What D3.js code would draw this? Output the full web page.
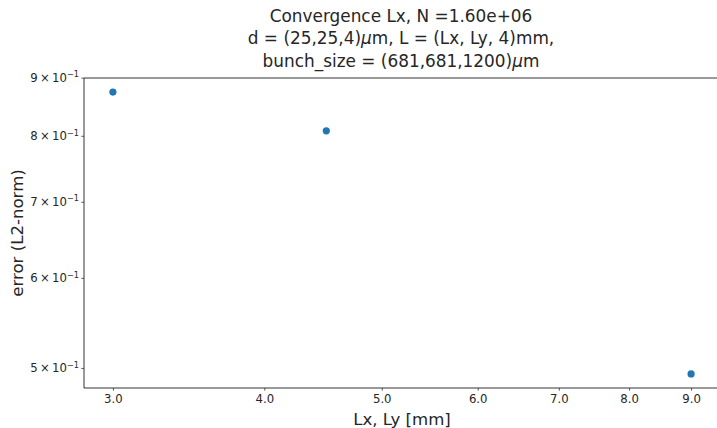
<!DOCTYPE html>
<html><head><meta charset="utf-8">
<script src="https://cdn.jsdelivr.net/npm/d3@7"></script>
<style>body{margin:0;background:#fff;} text{font-family:"DejaVu Sans",sans-serif;fill:#262626;}</style>
</head><body>
<svg id="c" width="717" height="428"></svg>
<script>
const xValues = [3.0, 4.5, 9.0];
const yValues = [0.874, 0.808, 0.494];
const xTicks = [3, 4, 5, 6, 7, 8, 9];
const xTickLabels = ["3.0", "4.0", "5.0", "6.0", "7.0", "8.0", "9.0"];
const yTicks = [0.5, 0.6, 0.7, 0.8, 0.9];
const yTickMantissa = ["5", "6", "7", "8", "9"];
const titleLines = ["Convergence Lx, N =1.60e+06", "d = (25,25,4)|\u03bc|m, L = (Lx, Ly, 4)mm,", "bunch_size = (681,681,1200)|\u03bc|m"];
const xLabel = "Lx, Ly [mm]";
const yLabel = "error (L2-norm)";

const svg = d3.select("#c");
const L = 84, R = 720, T = 78, B = 388;
const xmin = d3.min(xValues), xmax = d3.max(xValues);
const lx = Math.log(xmax / xmin) * 0.05;
const x = d3.scaleLog().domain([xmin * Math.exp(-lx), xmax * Math.exp(lx)]).range([L, R]);
const ymin = d3.min(yValues), ymax = d3.max(yValues);
const ly = Math.log(ymax / ymin) * 0.05;
const y = d3.scaleLog().domain([ymin * Math.exp(-ly), ymax * Math.exp(ly)]).range([B, T]);

// spines
const g = svg.append("g");
g.append("line").attr("x1", L).attr("x2", L).attr("y1", T).attr("y2", B).attr("stroke", "#000").attr("stroke-width", 0.8);
g.append("line").attr("x1", L).attr("x2", R).attr("y1", B).attr("y2", B).attr("stroke", "#000").attr("stroke-width", 0.8);
g.append("line").attr("x1", L).attr("x2", R).attr("y1", T).attr("y2", T).attr("stroke", "#000").attr("stroke-width", 0.8);
g.append("line").attr("x1", R).attr("x2", R).attr("y1", T).attr("y2", B).attr("stroke", "#000").attr("stroke-width", 0.8);

// x axis
const xa = svg.append("g").attr("transform", `translate(0,${B})`)
  .call(d3.axisBottom(x).tickValues(xTicks).tickFormat((d, i) => xTickLabels[i]).tickSize(2.8).tickPadding(4));
xa.select(".domain").remove();
xa.selectAll("line").attr("stroke", "#000").attr("stroke-width", 0.6);
xa.selectAll("text").attr("font-size", 11.7).attr("fill", "#262626").style("font-family", "DejaVu Sans");

// y axis
const ya = svg.append("g").attr("transform", `translate(${L},0)`)
  .call(d3.axisLeft(y).tickValues(yTicks).tickFormat("").tickSize(2.8));
ya.select(".domain").remove();
ya.selectAll("line").attr("stroke", "#000").attr("stroke-width", 0.6);
ya.selectAll(".tick").each(function(d, i) {
  const t = d3.select(this).append("text").attr("x", -5).attr("dy", "0.32em")
    .attr("text-anchor", "end").attr("font-size", 11.7).attr("fill", "#262626").style("font-family", "DejaVu Sans");
  t.append("tspan").text(yTickMantissa[i] + "\u2009\u00d7\u200910");
  t.append("tspan").attr("font-size", 8.2).attr("dy", -4.5).text("\u22121");
});

// points
svg.append("g").selectAll("circle").data(xValues).join("circle")
  .attr("cx", (d) => x(d)).attr("cy", (d, i) => y(yValues[i])).attr("r", 3.6).attr("fill", "#1f77b4");

// title
const cx = (L + R) / 2;
const baselines = [21.5, 44, 66.5];
titleLines.forEach((line, i) => {
  const t = svg.append("text").attr("x", cx - 1).attr("y", baselines[i]).attr("text-anchor", "middle").attr("font-size", 16.9);
  line.split("|").forEach((part, j) => {
    const sp = t.append("tspan").text(part);
    if (part === "\u03bc") sp.style("font-style", "italic");
  });
});

svg.append("text").attr("x", cx).attr("y", 425).attr("text-anchor", "middle").attr("font-size", 16.6).text(xLabel);
svg.append("text").attr("transform", `translate(23,${(T + B) / 2}) rotate(-90)`).attr("text-anchor", "middle").attr("font-size", 16.6).text(yLabel);
</script>
</body></html>
